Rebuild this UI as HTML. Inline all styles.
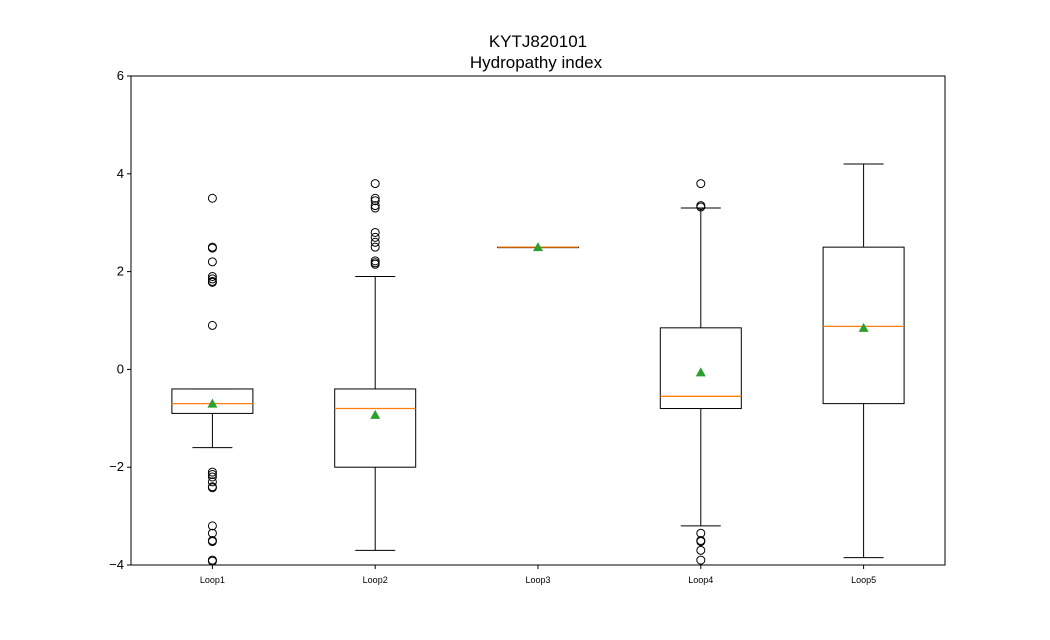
<!DOCTYPE html>
<html><head><meta charset="utf-8"><style>body{margin:0;background:#fff}svg{font-family:"Liberation Sans","DejaVu Sans",sans-serif}</style></head>
<body>
<svg id="chart" width="1050" height="635">
<rect width="1050" height="635" fill="#fff"/>
<text x="538" y="47" text-anchor="middle" font-size="17">KYTJ820101</text>
<text x="536" y="68" text-anchor="middle" font-size="17">Hydropathy index</text>
<g id="plot"></g>
<rect x="131" y="76" width="814" height="489" fill="none" stroke="#000" stroke-width="1"/>
</svg>
<script>
const categories=["Loop1","Loop2","Loop3","Loop4","Loop5"];
const whiskLo=[-1.6,-3.7,2.5,-3.2,-3.85];
const q1=[-0.9,-2.0,2.5,-0.8,-0.7];
const medians=[-0.7,-0.8,2.5,-0.55,0.88];
const q3=[-0.4,-0.4,2.5,0.85,2.5];
const whiskHi=[-0.4,1.9,2.5,3.3,4.2];
const means=[-0.7,-0.93,2.5,-0.06,0.85];
const outliers=[[3.5,2.5,2.48,2.2,1.9,1.85,1.8,1.78,0.9,-2.1,-2.15,-2.2,-2.3,-2.4,-2.42,-3.2,-3.35,-3.5,-3.52,-3.9,-3.92],[3.8,3.5,3.45,3.35,3.3,2.8,2.7,2.6,2.5,2.22,2.18,2.15],[],[3.8,3.35,3.32,-3.35,-3.5,-3.52,-3.7,-3.9],[]];
const yTicks=[-4,-2,0,2,4,6];
const NS="http://www.w3.org/2000/svg";
const X0=131,X1=945,Y0=565,Y1=76;
const y=v=>Y0-(v+4)/10*(Y0-Y1);
const x=i=>X0+(i+0.5)*(X1-X0)/categories.length;
const g=document.getElementById('plot');
function mk(t,a){const e=document.createElementNS(NS,t);for(const k in a)e.setAttribute(k,a[k]);g.appendChild(e);return e;}
yTicks.forEach(t=>{
 const l=mk('line',{x1:X0-4,x2:X0,y1:y(t),y2:y(t),stroke:'#000'});
 
 
 const tx=mk('text',{x:X0-7,y:y(t)+4,'text-anchor':'end','font-size':13});tx.textContent=String(t).replace('-','\u2212');
 
 
});
const hw=40.5;
categories.forEach((c,i)=>{
 const cx=x(i);
 const tk=mk('line',{x1:cx,x2:cx,y1:Y0,y2:Y0+4,stroke:'#000'});
 
 
 const lb=mk('text',{x:cx,y:Y0+18,'text-anchor':'middle','font-size':9});lb.textContent=c;
 
 
 const s={stroke:'#000','stroke-width':1,fill:'none'};
 const w1=mk('line',{x1:cx,x2:cx,y1:y(q1[i]),y2:y(whiskLo[i]),...s});
 
 
 const w2=mk('line',{x1:cx,x2:cx,y1:y(q3[i]),y2:y(whiskHi[i]),...s});
 
 
 [whiskLo[i],whiskHi[i]].forEach(v=>{const cp=mk('line',{x1:cx-20,x2:cx+20,y1:y(v),y2:y(v),...s});
  
  });
 const b=mk('rect',{x:cx-hw,y:y(q3[i]),width:hw*2,height:Math.max(0.5,y(q1[i])-y(q3[i])),...s});
 
 
 const m=mk('line',{x1:cx-hw,x2:cx+hw,y1:y(medians[i]),y2:y(medians[i]),stroke:'#ff7f0e','stroke-width':1.3});
 
 
 outliers[i].forEach(v=>{const o=mk('circle',{cx:cx,cy:y(v),r:4,...s});
  
  });
 const my=y(means[i]);
 const mt=mk('polygon',{points:`${cx},${my-5} ${cx-5},${my+4} ${cx+5},${my+4}`,fill:'#2ca02c'});
 
 
});
</script>
</body></html>
